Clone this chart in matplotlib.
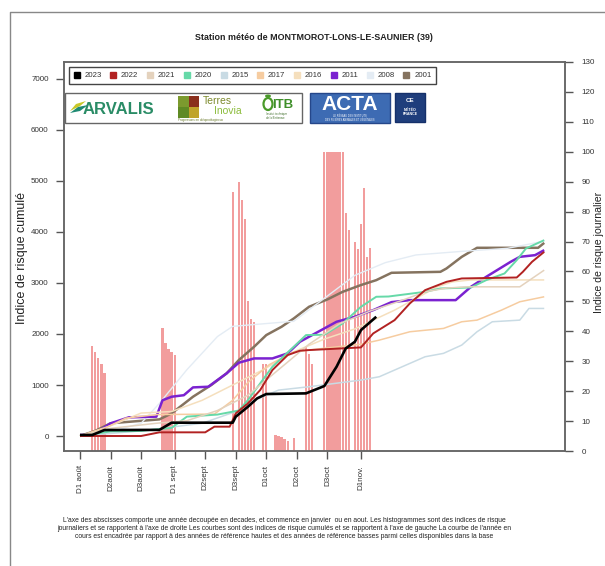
import matplotlib
matplotlib.use('Agg')
import matplotlib.pyplot as plt
from matplotlib.lines import Line2D
from matplotlib.patches import Rectangle, Polygon, Ellipse

plt.rcParams['font.family'] = ['Liberation Sans', 'DejaVu Sans']

W, H = 605, 566  # figure size in pixels

# x axis: days counted from 1 August, one tick per decade
decade_days = [0, 10, 20, 31, 41, 51, 61, 71, 81, 92]
decade_labels = ['D1 août', 'D2août', 'D3août', 'D1 sept', 'D2sept', 'D3sept',
                 'D1oct', 'D2oct', 'D3oct', 'D1nov.']

years = ['2023', '2022', '2021', '2020', '2015', '2017', '2016', '2011', '2008', '2001']
year_colors = ['#000000', '#b22222', '#e4d2bd', '#66d9a8', '#c9dbe4',
               '#f6cca0', '#f5dfbd', '#7b22d0', '#e4ecf4', '#85735f']
line_widths = [1.9, 1.4, 1.1, 1.4, 1.1, 1.1, 1.1, 1.8, 1.0, 1.8]

# cumulative risk index (left axis)
days_2023 = [0, 4, 8, 26, 30, 50, 51, 55, 58, 61, 74, 80, 84, 87, 90, 92, 97]
cum_2023 = [20, 20, 117, 120, 261, 261, 379, 575, 738, 823, 836, 980, 1358, 1717, 1848, 2077, 2338]

days_2022 = [0, 20, 26, 41, 44, 49, 50, 51, 55, 59, 63, 68, 72, 75, 92, 96, 103, 108, 113, 120, 125, 143, 145, 148, 152]
cum_2022 = [0, 0, 72, 72, 183, 183, 313, 444, 640, 901, 1293, 1587, 1672, 1685, 1737, 2011, 2272, 2600, 2860, 3023, 3089, 3108, 3219, 3415, 3611]

days_2021 = [0, 10, 25, 35, 45, 55, 65, 75, 85, 95, 105, 113, 120, 127, 144, 152]
cum_2021 = [0, 150, 250, 300, 500, 800, 1300, 1800, 2200, 2450, 2650, 2827, 2900, 2925, 2925, 3252]

days_2020 = [0, 10, 20, 30, 35, 45, 52, 55, 59, 63, 70, 74, 80, 86, 92, 97, 101, 113, 118, 128, 133, 139, 143, 146, 152]
cum_2020 = [0, 90, 100, 160, 380, 420, 500, 705, 1032, 1358, 1750, 1979, 1985, 2207, 2534, 2730, 2735, 2827, 2893, 2912, 3056, 3187, 3448, 3676, 3840]

days_2015 = [0, 20, 40, 52, 57, 65, 75, 92, 98, 103, 113, 119, 125, 130, 135, 144, 147, 152]
cum_2015 = [0, 100, 250, 500, 700, 900, 966, 1097, 1162, 1293, 1554, 1620, 1783, 2044, 2240, 2272, 2501, 2501]

days_2017 = [0, 8, 15, 25, 44, 50, 55, 62, 70, 80, 92, 98, 108, 119, 125, 130, 138, 144, 152]
cum_2017 = [0, 150, 350, 420, 430, 700, 1050, 1400, 1650, 1720, 1800, 1880, 2044, 2109, 2240, 2272, 2468, 2632, 2730]

days_2016 = [0, 10, 20, 30, 40, 50, 60, 70, 80, 90, 97, 103, 111, 117, 122, 128, 152]
cum_2016 = [0, 200, 450, 480, 700, 1000, 1300, 1650, 1900, 2100, 2300, 2468, 2730, 2925, 3023, 3060, 3060]

days_2011 = [0, 4, 5, 10, 16, 25, 27, 30, 34, 37, 42, 45, 48, 52, 57, 63, 68, 72, 78, 84, 90, 96, 102, 108, 123, 128, 133, 141, 144, 149, 152]
cum_2011 = [20, 20, 52, 248, 366, 379, 700, 770, 800, 953, 966, 1097, 1228, 1437, 1521, 1521, 1620, 1848, 2044, 2240, 2338, 2468, 2625, 2664, 2664, 2925, 3121, 3415, 3513, 3546, 3644]

days_2008 = [0, 10, 20, 26, 35, 45, 50, 60, 70, 80, 90, 100, 110, 125, 140, 152]
cum_2008 = [0, 80, 250, 640, 1300, 1950, 2150, 2200, 2250, 2700, 3150, 3400, 3550, 3620, 3680, 3820]

days_2001 = [0, 5, 10, 26, 30, 37, 43, 48, 52, 57, 61, 66, 70, 75, 81, 86, 92, 97, 102, 118, 120, 125, 130, 150, 152]
cum_2001 = [0, 100, 250, 326, 444, 770, 1000, 1228, 1489, 1750, 1979, 2142, 2305, 2534, 2678, 2827, 2960, 3056, 3200, 3219, 3285, 3513, 3690, 3690, 3787]

series_days = [days_2023, days_2022, days_2021, days_2020, days_2015,
               days_2017, days_2016, days_2011, days_2008, days_2001]
series_cum = [cum_2023, cum_2022, cum_2021, cum_2020, cum_2015,
              cum_2017, cum_2016, cum_2011, cum_2008, cum_2001]

# daily risk index of the current year (right axis)
daily_days = [4, 5, 6, 7, 8, 27, 28, 29, 30, 31, 50, 52, 53, 54, 55, 56, 57, 60, 61,
              64, 65, 66, 67, 68, 70, 74, 75, 76, 80, 81, 82, 83, 84, 85, 86, 87, 88,
              90, 91, 92, 93, 94, 95]
daily_risk = [35, 33, 31, 29, 26, 41, 36, 34, 33, 32, 86.5, 90, 84, 77.5, 50, 44, 43, 29, 29,
              5.5, 5, 4.6, 4, 3.2, 4.5, 35, 32.4, 29, 100, 100, 100, 100, 100, 100, 100, 79.5, 74,
              70, 67.6, 76, 88, 65, 68]

fig = plt.figure(figsize=(W / 100, H / 100), dpi=100)
ax = fig.add_axes([64 / W, 1 - 451 / H, (565 - 64) / W, (451 - 62) / H])

ax.bar(daily_days, daily_risk, width=0.75, color='#f29d9d', linewidth=0, zorder=1)
ax.set_xlim(-5.24, 158.8)
ax.set_ylim(0, 130)
ax.set_yticks(range(0, 131, 10))

ax2 = ax.twinx()
ax.yaxis.tick_right()
ax2.yaxis.tick_left()
ax2.set_ylim(-294, 7333)
ax2.set_yticks(range(0, 7001, 1000))

for i in reversed(range(len(years))):
    ax2.plot(series_days[i], series_cum[i], color=year_colors[i], lw=line_widths[i],
             solid_joinstyle='round', solid_capstyle='butt')

ax.set_xticks(decade_days)
ax.set_xticklabels(decade_labels, rotation=90, ha='center', va='top')

for a in (ax, ax2):
    for s in a.spines.values():
        s.set_color('#666666')
        s.set_linewidth(1.1)
ax.tick_params(axis='both', direction='out', length=6, width=1, color='#555555',
               labelcolor='#333333', labelsize=5.8, pad=4)
ax.tick_params(axis='y', pad=6)
ax2.tick_params(axis='y', direction='out', length=6, width=1, color='#555555',
                labelcolor='#333333', labelsize=5.8, pad=5)

handles = [Line2D([], [], marker='s', linestyle='none', markersize=5,
                  markerfacecolor=c, markeredgecolor=c) for c in year_colors]
leg = ax2.legend(handles, years, ncol=10, mode='expand', loc='lower left',
                 bbox_to_anchor=(65 / W, 1 - 88 / H, 375 / W, 24 / H),
                 bbox_transform=fig.transFigure, fontsize=5.6, handlelength=0.8,
                 handletextpad=0.6, borderpad=0.6, fancybox=False, framealpha=1)
leg.get_frame().set_edgecolor('#444444')
leg.get_frame().set_linewidth(1.0)
for t in leg.get_texts():
    t.set_color('#333333')

fig.text(314 / W, 1 - 38 / H, 'Station météo de MONTMOROT-LONS-LE-SAUNIER (39)',
         ha='center', va='center', fontsize=6.4, fontweight='bold', color='#222222')
fig.text(22 / W, 1 - 258 / H, 'Indice de risque cumulé', rotation=90,
         ha='center', va='center', fontsize=9, color='#222222')
fig.text(599.5 / W, 1 - 252 / H, 'Indice de risque journalier', rotation=90,
         ha='center', va='center', fontsize=7.6, color='#222222')

footer = ("L'axe des abscisses comporte une année decoupée en decades, et commence en janvier  ou en aout. "
          "Les histogrammes sont des indices de risque\n"
          "journaliers et se rapportent à l'axe de droite Les courbes sont des indices de risque cumulés "
          "et se rapportent à l'axe de gauche La courbe de l'année en\n"
          "cours est encadrée par rapport à des années de référence hautes et des années de référence "
          "basses parmi celles disponibles dans la base")
fig.text(284 / W, 1 - 529 / H, footer, ha='center', va='center', fontsize=4.85,
         color='#222222', linespacing=1.2)

# overlay in pixel coordinates for the page frame and the partner logos
ov = fig.add_axes([0, 0, 1, 1], zorder=5)
ov.set_xlim(0, W)
ov.set_ylim(H, 0)
ov.axis('off')
ov.plot([10, 10, W], [H, 12, 12], color='#888888', lw=1.0)

ov.add_patch(Rectangle((65, 93), 237, 30, facecolor='white', edgecolor='#666666', lw=1.0))
# Arvalis
ov.add_patch(Polygon([[70, 111], [76, 104], [86, 101], [80, 106]], closed=True,
                     facecolor='#c8c828', edgecolor='none'))
ov.add_patch(Polygon([[70, 113], [78, 107], [88, 105], [80, 111]], closed=True,
                     facecolor='#1f8a72', edgecolor='none'))
ov.text(83, 109, 'ARVALIS', fontsize=12, fontweight='bold', color='#2a8c66',
        ha='left', va='center')
# Terres Inovia
ov.add_patch(Rectangle((178, 96), 11, 11, facecolor='#7c9a2e', edgecolor='none'))
ov.add_patch(Rectangle((189, 96), 10, 11, facecolor='#8a2f1c', edgecolor='none'))
ov.add_patch(Rectangle((178, 107), 11, 11, facecolor='#5f8a24', edgecolor='none'))
ov.add_patch(Rectangle((189, 107), 10, 11, facecolor='#c0a32a', edgecolor='none'))
ov.text(203, 101, 'Terres', fontsize=7.5, color='#7d8a2c', ha='left', va='center')
ov.text(214, 111, 'Inovia', fontsize=7.5, color='#8cbc3c', ha='left', va='center')
ov.text(178, 120, 'Progressons en oléoprotéagineux', fontsize=2.2, color='#6a7a2a',
        ha='left', va='center')
# ITB
ov.add_patch(Ellipse((268, 104), 9, 12, facecolor='none', edgecolor='#4a9a2a', lw=1.6))
ov.add_patch(Ellipse((268, 96), 6, 3, facecolor='#4a9a2a', edgecolor='none'))
ov.text(272, 105, 'ITB', fontsize=9.5, fontweight='bold', color='#3f8f2a',
        ha='left', va='center')
ov.text(266, 116, 'Institut technique\nde la Betterave', fontsize=2.0, color='#3f6f2a',
        ha='left', va='center', linespacing=1.0)
# ACTA
ov.add_patch(Rectangle((310, 93), 80, 30, facecolor='#3d6bb3', edgecolor='#25478a', lw=1.0))
ov.text(350, 105, 'ACTA', fontsize=15, fontweight='bold', color='white',
        ha='center', va='center')
ov.text(350, 118, 'LE RÉSEAU DES INSTITUTS\nDES FILIÈRES ANIMALES ET VÉGÉTALES',
        fontsize=1.8, color='white', ha='center', va='center', linespacing=1.0)
# Météo-France
ov.add_patch(Rectangle((395, 93), 30, 29, facecolor='#1f3e7c', edgecolor='#15306a', lw=1.0))
ov.text(410, 101, 'CE', fontsize=4.5, fontweight='bold', color='white', ha='center', va='center')
ov.text(410, 112, 'MÉTÉO\nFRANCE', fontsize=2.6, fontweight='bold', color='white',
        ha='center', va='center', linespacing=1.0)

fig.savefig('out.png', dpi=100)
